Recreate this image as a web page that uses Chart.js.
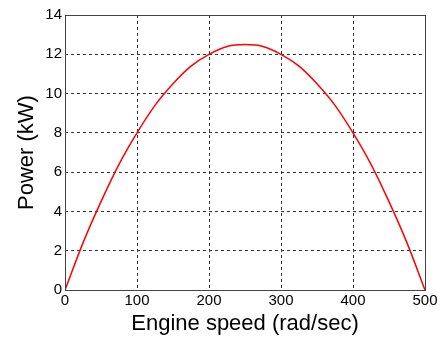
<!DOCTYPE html>
<html>
<head>
<meta charset="utf-8">
<script src="https://cdn.jsdelivr.net/npm/chart.js@4/dist/chart.umd.min.js"></script>
<style>
  html, body { margin: 0; padding: 0; background: #fff; }
  #wrap { width: 448px; height: 337px; }
</style>
</head>
<body>
<div id="wrap"><canvas id="powerChart" width="448" height="337"></canvas></div>
<script>
// engine speed (rad/sec) and power (kW)
const speed = [0, 25, 50, 75, 100, 125, 150, 175, 200, 225, 250, 275, 300, 325, 350, 375, 400, 425, 450, 475, 500];
const power = [0, 2.4, 4.5, 6.4, 8.0, 9.4, 10.5, 11.4, 12.0, 12.4, 12.5, 12.4, 12.0, 11.4, 10.5, 9.4, 8.0, 6.4, 4.5, 2.4, 0];

const xTicks = [0, 100, 200, 300, 400, 500];
const yTicks = [0, 2, 4, 6, 8, 10, 12, 14];

const points = speed.map((s, i) => ({x: s, y: power[i]}));

// solid frame round the plot area
const frame = {
    id: "frame",
    afterDraw(chart) {
        const a = chart.chartArea;
        const ctx = chart.ctx;
        ctx.save();
        ctx.strokeStyle = "#444";
        ctx.lineWidth = 1;
        ctx.strokeRect(Math.round(a.left) + 0.5, Math.round(a.top) + 0.5,
            Math.round(a.right - a.left), Math.round(a.bottom - a.top));
        ctx.restore();
    }
};

const grid = {
    color: "#333",
    lineWidth: 1,
    drawTicks: false
};

const tickFont = {family: "Arial, Liberation Sans", size: 15};
const titleFont = {family: "Arial, Liberation Sans", size: 22};

new Chart(document.getElementById("powerChart"), {
    type: "scatter",
    data: {
        datasets: [{
            data: points,
            showLine: true,
            borderColor: "#ff0000",
            borderWidth: 1.5,
            pointRadius: 0,
            tension: 0.3
        }]
    },
    options: {
        responsive: false,
        animation: false,
        layout: {padding: {top: 15, right: 23, left: 0, bottom: 0}},
        plugins: {legend: {display: false}, tooltip: {enabled: false}},
        scales: {
            x: {
                type: "linear",
                min: 0, max: 500,
                afterBuildTicks: s => { s.ticks = xTicks.map(v => ({value: v})); },
                afterFit: s => { s.height = 47; },
                grid: grid,
                border: {display: false, dash: [3, 3]},
                ticks: {color: "#000", font: tickFont, padding: 2, maxRotation: 0},
                title: {display: true, text: "Engine speed (rad/sec)", color: "#000",
                        font: titleFont, padding: {top: 0, bottom: 0}}
            },
            y: {
                type: "linear",
                min: 0, max: 14,
                afterBuildTicks: s => { s.ticks = yTicks.map(v => ({value: v})); },
                afterFit: s => { s.width = 65; },
                grid: grid,
                border: {display: false, dash: [3, 3]},
                ticks: {color: "#000", font: tickFont, padding: 3},
                title: {display: true, text: "Power (kW)", color: "#000",
                        font: titleFont, padding: {top: 14, bottom: 0}}
            }
        }
    },
    plugins: [frame]
});
</script>
</body>
</html>
